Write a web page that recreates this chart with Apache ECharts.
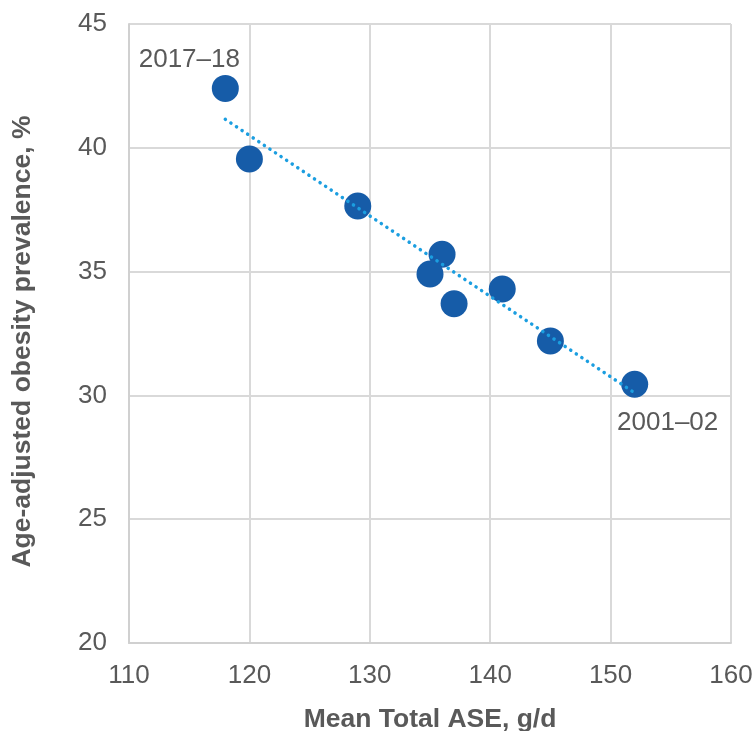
<!DOCTYPE html>
<html>
<head>
<meta charset="utf-8">
<script src="https://cdn.jsdelivr.net/npm/echarts@6/dist/echarts.min.js"></script>
<style>
  html, body { margin: 0; padding: 0; background: #fff; }
  #chart { width: 754px; height: 731px; }
</style>
</head>
<body>
<div id="chart"></div>
<script>
// mean total ASE (g/d) vs age-adjusted obesity prevalence (%)
const periods = ['2017–18', '', '', '', '', '', '', '', '2001–02'];
const aseValues = [118, 120, 129, 136, 135, 137, 141, 145, 152];
const obesityValues = [42.4, 39.55, 37.65, 35.7, 34.9, 33.7, 34.3, 32.2, 30.45];
// dotted trend line, endpoints
const trendX = [118, 152];
const trendY = [41.15, 30.1];

const textColor = '#595959';
const font = 'Liberation Sans, Arial, sans-serif';

const chart = echarts.init(document.getElementById('chart'));

const points = aseValues.map((x, i) => {
  const p = { value: [x, obesityValues[i]], name: periods[i] };
  if (i === 0) {
    p.label = { show: true, position: 'top', offset: [-36, 3] };
  } else if (i === aseValues.length - 1) {
    p.label = { show: true, position: 'bottom', offset: [33, 7] };
  }
  return p;
});

chart.setOption({
  animation: false,
  grid: { left: 129, right: 23, top: 24, bottom: 88, outerBoundsMode: 'none' },
  xAxis: {
    type: 'value',
    min: 110,
    max: 160,
    interval: 10,
    name: 'Mean Total ASE, g/d',
    nameLocation: 'middle',
    nameGap: 63,
    nameTextStyle: { color: textColor, fontSize: 26.5, fontWeight: 'bold', fontFamily: font },
    axisLine: { show: true, lineStyle: { color: '#d0d0d0', width: 2 } },
    axisTick: { show: false },
    axisLabel: { color: textColor, fontSize: 26, fontFamily: font, margin: 20 },
    splitLine: { show: true, lineStyle: { color: '#d9d9d9', width: 2 } },
  },
  yAxis: {
    type: 'value',
    min: 20,
    max: 45,
    interval: 5,
    name: 'Age-adjusted obesity prevalence, %',
    nameLocation: 'middle',
    nameGap: 93,
    nameTextStyle: {
      color: textColor, fontSize: 26.5, fontWeight: 'bold', fontFamily: font,
      padding: [0, 16, 0, 0],
    },
    axisLine: { show: true, lineStyle: { color: '#d0d0d0', width: 2 } },
    axisTick: { show: false },
    axisLabel: { color: textColor, fontSize: 26, fontFamily: font, margin: 22 },
    splitLine: { show: true, lineStyle: { color: '#d9d9d9', width: 2 } },
  },
  series: [
    {
      type: 'line',
      data: trendX.map((x, i) => [x, trendY[i]]),
      symbol: 'none',
      silent: true,
      z: 3,
      lineStyle: { color: '#1b9ee0', width: 3.5, type: [0.1, 6.6], cap: 'round' },
    },
    {
      type: 'scatter',
      data: points,
      symbolSize: 27,
      z: 2,
      itemStyle: { color: '#165ca8', opacity: 1 },
      label: {
        show: false,
        formatter: '{b}',
        color: textColor,
        fontSize: 26,
        fontFamily: font,
      },
    },
  ],
});
</script>
</body>
</html>
